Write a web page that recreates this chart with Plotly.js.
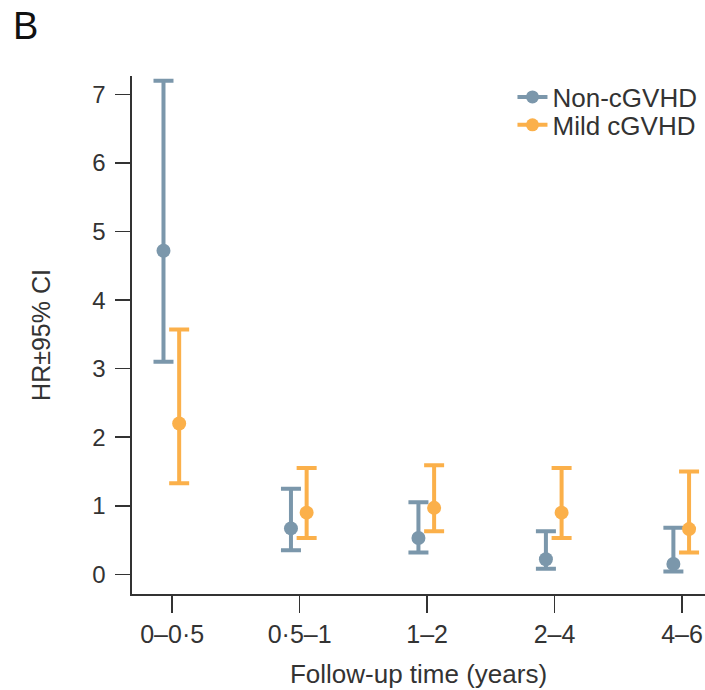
<!DOCTYPE html>
<html>
<head>
<meta charset="utf-8">
<script src="https://cdn.plot.ly/plotly-3.0.1.min.js"></script>
<style>
  html, body { margin: 0; padding: 0; background: #fff; }
  #chart { width: 705px; height: 690px; }
</style>
</head>
<body>
<div id="chart"></div>
<script>
// ---- data ----
const categories = ["0\u20130\u00b75", "0\u00b75\u20131", "1\u20132", "2\u20134", "4\u20136"];
const seriesNames = ["Non-cGVHD", "Mild cGVHD"];
const nonHR    = [4.72, 0.67, 0.53, 0.22, 0.15];
const nonUpper = [7.20, 1.25, 1.05, 0.63, 0.68];
const nonLower = [3.10, 0.35, 0.32, 0.08, 0.04];
const mildHR    = [2.20, 0.90, 0.97, 0.90, 0.66];
const mildUpper = [3.57, 1.55, 1.59, 1.55, 1.50];
const mildLower = [1.33, 0.53, 0.63, 0.53, 0.32];
const yTicks = [0, 1, 2, 3, 4, 5, 6, 7];

// ---- styles ----
const colNon = "#7b97ab";
const colMild = "#fbb04a";
const offNon = -0.068;
const offMild = 0.055;
const font = "Liberation Sans, Arial, Helvetica, sans-serif";
const idx = categories.map((_, i) => i);

function errTrace(name, hr, up, lo, off, color) {
  return {
    type: "scatter", mode: "markers", name: name, showlegend: false,
    x: idx.map(i => i + off), y: hr,
    marker: { color: color, size: 14 },
    error_y: {
      type: "data", symmetric: false,
      array: hr.map((v, i) => up[i] - v),
      arrayminus: hr.map((v, i) => v - lo[i]),
      color: color, thickness: 4, width: 10
    },
    hoverinfo: "skip"
  };
}
function legendTrace(name, color, leg) {
  return {
    type: "scatter", mode: "lines+markers", name: name, legend: leg,
    x: [null], y: [null],
    line: { color: color, width: 4 },
    marker: { color: color, size: 13 }
  };
}

const data = [
  errTrace(seriesNames[0], nonHR, nonUpper, nonLower, offNon, colNon),
  errTrace(seriesNames[1], mildHR, mildUpper, mildLower, offMild, colMild),
  legendTrace(seriesNames[0], colNon, "legend"),
  legendTrace(seriesNames[1], colMild, "legend2")
];

const legFont = { family: font, size: 26, color: "#333" };
const layout = {
  width: 705, height: 690,
  margin: { l: 132, r: 0, t: 76, b: 96, pad: 0 },
  paper_bgcolor: "#fff", plot_bgcolor: "#fff",
  font: { family: font, color: "#333" },
  showlegend: true,
  legend: {
    x: 0.664, xanchor: "left", y: 0.9595, yanchor: "middle",
    font: legFont, bgcolor: "rgba(0,0,0,0)", itemwidth: 30
  },
  legend2: {
    x: 0.664, xanchor: "left", y: 0.9055, yanchor: "middle",
    font: legFont, bgcolor: "rgba(0,0,0,0)", itemwidth: 30
  },
  xaxis: {
    range: [-0.315, 4.18],
    tickvals: idx, ticktext: categories,
    showgrid: false, zeroline: false,
    showline: true, linecolor: "#333", linewidth: 1.6,
    ticks: "outside", ticklen: 17, tickwidth: 1.6, tickcolor: "#333",
    tickfont: { family: font, size: 25, color: "#333" },
    ticklabelstandoff: 0,
    title: { text: "Follow-up time (years)", font: { family: font, size: 26, color: "#333" }, standoff: 18 }
  },
  yaxis: {
    range: [-0.287, 7.27],
    tickvals: yTicks,
    showgrid: false, zeroline: false,
    showline: true, linecolor: "#333", linewidth: 1.6,
    ticks: "outside", ticklen: 15, tickwidth: 1.6, tickcolor: "#333",
    tickfont: { family: font, size: 24, color: "#333" },
    ticklabelstandoff: 5,
    title: { text: "HR\u00b195% CI", font: { family: font, size: 25, color: "#333" }, standoff: 34 }
  },
  annotations: [{
    text: "B", xref: "paper", yref: "paper", x: -132/573, y: 1 + 76/518,
    xanchor: "left", yanchor: "top", showarrow: false,
    xshift: 11, yshift: -3,
    font: { family: font, size: 38, color: "#111" }
  }]
};

Plotly.newPlot("chart", data, layout, { displayModeBar: false, staticPlot: true });
</script>
</body>
</html>
